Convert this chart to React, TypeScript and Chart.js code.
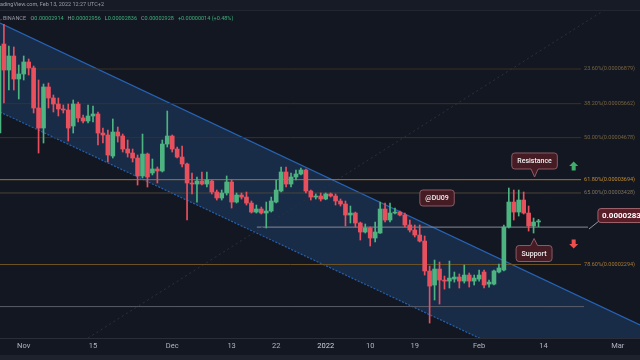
import React, { useEffect, useRef } from 'react';
import { Chart, registerables } from 'chart.js';

Chart.register(...registerables);

// ---------------- data ----------------
// Daily candles, prices in units of 0.00000001 USDT.
// Day index counted from 1 Nov 2021 (0 = Nov 1); first candle = 27 Oct 2021.
const FIRST_DAY = -5;

const OPEN = [
  4801, 7916, 6840, 7400, 6503,
  6688, 7155, 6918, 5526, 4938, 6218, 5845, 5651, 5495, 5464,
  4994, 5651, 5224, 5136, 5283, 5343, 4801, 4748, 4219, 4828,
  4721, 4388, 4291, 4172, 3772, 4267, 3836, 3923, 3879, 4513,
  4721, 4388, 4195, 4034, 3626, 3605, 3666, 3605, 3666, 3447,
  3333, 3428, 3646, 3258, 3389, 3351, 3240, 3080, 3133, 3063,
  3098, 3258, 3466, 3857, 3605, 3750, 3814, 3901, 3466, 3351,
  3370, 3314, 3409, 3370, 3277, 3222, 3029, 3063, 2896, 2753,
  2816, 2662, 2738, 3133, 2945, 3063, 3080, 3029, 2864, 2784,
  2707, 2617, 2212, 2044, 2236, 2102, 2090, 2114, 2138, 2090,
  2162, 2090, 2114, 2199, 2055, 2055, 2199, 2224, 2832, 3258,
  3080, 3295, 3063, 2848, 2914,
];
const HIGH = [
  8005, 8847, 7828, 7784, 7035,
  7400, 7277, 6996, 6467, 6323, 6359, 5944, 5845, 5620, 5651,
  5779, 5714, 5313, 5620, 5588, 5403, 4938, 4883, 5195, 4966,
  4774, 4616, 4388, 4243, 4774, 4291, 4149, 3967, 4616, 5433,
  4748, 4438, 4463, 4057, 3836, 3750, 3857, 3857, 3687, 3486,
  3486, 3772, 3687, 3428, 3428, 3447, 3277, 3204, 3168, 3258,
  3351, 3687, 3967, 3967, 3836, 3901, 3945, 3923, 3486, 3409,
  3428, 3428, 3428, 3409, 3314, 3277, 3186, 3080, 2912, 2880,
  2832, 2912, 3258, 3240, 3240, 3150, 3098, 3063, 2945, 2864,
  2864, 2692, 2274, 2352, 2326, 2150, 2339, 2199, 2175, 2287,
  2187, 2162, 2224, 2224, 2102, 2224, 2300, 2864, 3525, 3486,
  3486, 3447, 3186, 2978, 2956,
];
const LOW = [
  4721, 5682, 6113, 6113, 5812,
  6467, 6651, 5373, 4291, 4539, 5526, 5403, 5283, 5373, 4590,
  4801, 5107, 5079, 5079, 5107, 4488, 4539, 4080, 4172, 4564,
  4315, 4195, 4080, 3585, 3729, 3545, 3793, 3626, 3857, 4438,
  4315, 4172, 3967, 2945, 3409, 3258, 3585, 3545, 3409, 3295,
  3295, 3389, 3150, 3240, 3314, 3204, 3063, 3063, 3046, 2816,
  3080, 3240, 3447, 3545, 3545, 3687, 3793, 3428, 3295, 3314,
  3277, 3300, 3351, 3204, 3186, 2848, 2896, 2832, 2632, 2738,
  2545, 2603, 2730, 2912, 2912, 3046, 3012, 2832, 2753, 2677,
  2603, 2162, 1651, 1879, 1837, 1998, 2010, 2078, 2010, 2067,
  2021, 2044, 2090, 2010, 2021, 2044, 2187, 2212, 2816, 2945,
  3012, 3046, 2768, 2738, 2836,
];
const CLOSE = [
  7828, 6840, 7400, 6503, 6688,
  7155, 6918, 5526, 4938, 6218, 5845, 5651, 5495, 5464, 4938,
  5651, 5224, 5136, 5283, 5343, 4801, 4748, 4243, 4828, 4721,
  4388, 4291, 4172, 3772, 4267, 3750, 3923, 3879, 4513, 4721,
  4388, 4195, 4034, 3626, 3605, 3666, 3605, 3687, 3447, 3333,
  3428, 3646, 3258, 3389, 3351, 3240, 3080, 3133, 3063, 3098,
  3277, 3486, 3857, 3605, 3750, 3814, 3901, 3466, 3351, 3370,
  3314, 3409, 3370, 3277, 3222, 3029, 3063, 2896, 2753, 2816,
  2662, 2753, 3133, 2945, 3063, 3080, 3029, 2864, 2784, 2707,
  2617, 2212, 2032, 2236, 2102, 2090, 2126, 2138, 2090, 2162,
  2090, 2126, 2162, 2044, 2078, 2212, 2249, 2832, 3258, 3080,
  3295, 3063, 2848, 2912, 2928,
];

const X_TICK_DAYS = [0, 14, 30, 42, 51, 61, 70, 79, 92, 105, 120];
const X_TICK_LABELS = ['Nov', '15', 'Dec', '13', '22', '2022', '10', '19', 'Feb', '14', 'Mar'];

const FIB_PCTS = ['23.60%', '38.20%', '50.00%', '61.80%', '65.00%', '78.60%'];
const FIB_VALUES = [6879, 5662, 4678, 3694, 3428, 2294];
const FIB_DAYS = [-4.79, 112.6];

const CHANNEL_DAYS = [-4.79, 124.5];
const CHANNEL_UPPER = [8908, 1633];
const CHANNEL_LOWER = [5403, 991];

const TREND_DAYS = [13, 120];
const TREND_VALUES = [1518, 10046];

const SUPPORT_DAYS = [47.1, 114];
const SUPPORT_VALUE = 2830;
const BASE_DAYS = [-4.79, 113.2];
const BASE_VALUE = 1811;

const LEADER_DAYS = [114.2, 116.2];
const LEADER_VALUES = [2800, 2928];
const PRICE_TAG_DAY = 116;
const PRICE_TAG_VALUE = 3020;
const LAST_PRICE = 2830;

const NOTE_TEXTS = ['@DU09', 'Resistance', 'Support'];
const NOTE_DAYS = [83.5, 103.2, 103.1];
const NOTE_VALUES = [3333, 4103, 2440];

const ARROW_DAYS = [111.1, 111.1];
const ARROW_VALUES = [3989, 2574];

const HEADER_TITLE = 'TradingView.com, Feb 13, 2022 12:27 UTC+2';
const HEADER_SOURCE = ', BINANCE';
const HEADER_KEYS = ['O', 'H', 'L', 'C'];
const HEADER_VALUES = ['0.00002914', '0.00002956', '0.00002836', '0.00002928'];
const HEADER_CHANGE = '+0.00000014 (+0.48%)';

const X_MIN = -4.79;
const X_MAX = 124.5;
const Y_MIN = 1518;
const Y_MAX = 10136;

// ---------------- styles ----------------
const BG = '#131722';
const UP = '#4db380';
const DOWN = '#e9505e';
const CH_LINE = '#2763b4';
const CH_FILL = 'rgba(33,82,140,0.36)';
const FIB_LINE_COLORS = ['#3a3224', '#3a3224', '#3a3224', '#a87624', '#4a4438', '#6e5326'];
const FIB_LABEL_COLORS = ['#76643f', '#76643f', '#76643f', '#c08a30', '#7d735f', '#a77a33'];
const NOTE_POINTERS = ['none', 'down', 'up'];
const NOTE_FILL = '#461c24';
const NOTE_BORDER = '#8c5a64';
const ARROW_DIRS = ['up', 'down'];
const ARROW_COLORS = ['#3fae6a', '#ef4e4e'];
const FONT = 'Roboto, "Liberation Sans", sans-serif';

function bubble(ctx: CanvasRenderingContext2D, cx: number, cy: number, w: number, h: number, r: number, pointer: string, tip: number, half: number) {
  const x = cx - w / 2;
  const y = cy - h / 2;
  ctx.beginPath();
  ctx.moveTo(x + r, y);
  if (pointer === 'up') {
    ctx.lineTo(cx - half, y);
    ctx.lineTo(cx, y - tip);
    ctx.lineTo(cx + half, y);
  }
  ctx.lineTo(x + w - r, y);
  ctx.arcTo(x + w, y, x + w, y + r, r);
  ctx.lineTo(x + w, y + h - r);
  ctx.arcTo(x + w, y + h, x + w - r, y + h, r);
  if (pointer === 'down') {
    ctx.lineTo(cx + half, y + h);
    ctx.lineTo(cx, y + h + tip);
    ctx.lineTo(cx - half, y + h);
  }
  ctx.lineTo(x + r, y + h);
  ctx.arcTo(x, y + h, x, y + h - r, r);
  ctx.lineTo(x, y + r);
  ctx.arcTo(x, y, x + r, y, r);
  ctx.closePath();
}

function arrow(ctx: CanvasRenderingContext2D, cx: number, cy: number, dir: string, color: string) {
  const s = dir === 'up' ? 1 : -1;
  ctx.beginPath();
  ctx.moveTo(cx, cy - 4.5 * s);
  ctx.lineTo(cx + 4.5, cy);
  ctx.lineTo(cx + 2, cy);
  ctx.lineTo(cx + 2, cy + 4.5 * s);
  ctx.lineTo(cx - 2, cy + 4.5 * s);
  ctx.lineTo(cx - 2, cy);
  ctx.lineTo(cx - 4.5, cy);
  ctx.closePath();
  ctx.fillStyle = color;
  ctx.fill();
}

const overlay = {
  id: 'overlay',
  beforeDraw(chart: any) {
    const { ctx, width, height } = chart;
    ctx.save();
    ctx.fillStyle = BG;
    ctx.fillRect(0, 0, width, height);
    ctx.restore();
  },
  afterDatasetsDraw(chart: any) {
    const { ctx } = chart;
    const xs = chart.scales.x;
    const ys = chart.scales.y;
    ctx.save();
    // fib labels
    ctx.font = `5.5px ${FONT}`;
    ctx.textBaseline = 'middle';
    ctx.textAlign = 'left';
    const lx = xs.getPixelForValue(FIB_DAYS[1]) + 3;
    FIB_VALUES.forEach((v, i) => {
      ctx.fillStyle = FIB_LABEL_COLORS[i];
      ctx.fillText(`${FIB_PCTS[i]}(${(v / 1e8).toFixed(8)})`, lx, ys.getPixelForValue(v));
    });
    // notes
    ctx.font = `500 7px ${FONT}`;
    ctx.textAlign = 'center';
    NOTE_TEXTS.forEach((t, i) => {
      const cx = xs.getPixelForValue(NOTE_DAYS[i]);
      const cy = ys.getPixelForValue(NOTE_VALUES[i]);
      const w = ctx.measureText(t).width + 11;
      const ptr = NOTE_POINTERS[i];
      bubble(ctx, cx, cy, w, 16, 3, ptr, ptr === 'up' ? 7 : 8, 3.5);
      ctx.fillStyle = NOTE_FILL;
      ctx.fill();
      ctx.strokeStyle = NOTE_BORDER;
      ctx.lineWidth = 1;
      ctx.stroke();
      ctx.fillStyle = '#f0f0f2';
      ctx.fillText(t, cx, cy + 0.5);
    });
    // arrows
    ARROW_DAYS.forEach((d, i) => {
      arrow(ctx, xs.getPixelForValue(d), ys.getPixelForValue(ARROW_VALUES[i]), ARROW_DIRS[i], ARROW_COLORS[i]);
    });
    // price tag
    const tx = xs.getPixelForValue(PRICE_TAG_DAY);
    const ty = ys.getPixelForValue(PRICE_TAG_VALUE);
    bubble(ctx, tx + 40, ty, 80, 14, 3, 'none', 0, 0);
    ctx.fillStyle = '#5a1e29';
    ctx.fill();
    ctx.strokeStyle = '#a0646e';
    ctx.stroke();
    ctx.font = `bold 8px ${FONT}`;
    ctx.textAlign = 'left';
    ctx.fillStyle = '#ffffff';
    ctx.fillText((LAST_PRICE / 1e8).toFixed(8), tx + 4, ty + 0.5);
    ctx.restore();
  },
  afterDraw(chart: any) {
    const { ctx, width, height } = chart;
    ctx.save();
    // header band
    ctx.fillStyle = '#171b26';
    ctx.fillRect(0, 0, width, 10);
    ctx.fillStyle = '#22262f';
    ctx.fillRect(0, 10, width, 1);
    ctx.font = `5.5px ${FONT}`;
    ctx.textBaseline = 'middle';
    ctx.textAlign = 'left';
    ctx.fillStyle = '#9a9da6';
    const cut = ctx.measureText('Tr').width;
    ctx.fillText(HEADER_TITLE, -cut, 5);
    let x = 0.5;
    const y = 18.5;
    ctx.fillStyle = '#9598a1';
    ctx.fillText(HEADER_SOURCE, x, y);
    x += ctx.measureText(HEADER_SOURCE).width + 4.5;
    HEADER_KEYS.forEach((k, i) => {
      ctx.fillStyle = '#9598a1';
      ctx.fillText(k, x, y);
      x += ctx.measureText(k).width;
      ctx.fillStyle = '#3fae78';
      ctx.fillText(HEADER_VALUES[i], x, y);
      x += ctx.measureText(HEADER_VALUES[i]).width + 4;
    });
    ctx.fillStyle = '#3fae78';
    ctx.fillText(HEADER_CHANGE, x, y);
    // bottom band
    ctx.fillStyle = '#1e222d';
    ctx.fillRect(0, 355, width, height - 355);
    ctx.restore();
  },
};

export default function App() {
  const ref = useRef<HTMLCanvasElement>(null);

  useEffect(() => {
    const canvas = ref.current;
    if (!canvas) return;
    const days = OPEN.map((_, i) => FIRST_DAY + i);
    const colors = OPEN.map((o, i) => (CLOSE[i] >= o ? UP : DOWN));
    const seg = (xv: number[], yv: number[]) => xv.map((xx, i) => ({ x: xx, y: yv[i] }));
    const hl = (xv: number[], v: number) => xv.map((xx) => ({ x: xx, y: v }));
    const lineBase = { type: 'line', pointRadius: 0, fill: false, tension: 0, borderWidth: 1 };

    const datasets: any[] = [
      { ...lineBase, data: seg(CHANNEL_DAYS, CHANNEL_UPPER), borderColor: CH_LINE, borderWidth: 1.2, fill: '+1', backgroundColor: CH_FILL, order: 20 },
      { ...lineBase, data: seg(CHANNEL_DAYS, CHANNEL_LOWER), borderColor: CH_LINE, borderWidth: 1.2, borderDash: [2, 1.5], order: 20 },
      ...FIB_VALUES.map((v, i) => ({ ...lineBase, data: hl(FIB_DAYS, v), borderColor: FIB_LINE_COLORS[i], order: 15 })),
      { ...lineBase, data: seg(TREND_DAYS, TREND_VALUES), borderColor: '#2a303d', borderDash: [2, 3], order: 15 },
      { ...lineBase, data: hl(SUPPORT_DAYS, SUPPORT_VALUE), borderColor: '#868993', order: 15 },
      { ...lineBase, data: hl(BASE_DAYS, BASE_VALUE), borderColor: '#5a5d68', order: 15 },
      { ...lineBase, data: seg(LEADER_DAYS, LEADER_VALUES), borderColor: '#9598a1', order: 15 },
      {
        type: 'bar',
        data: days.map((d, i) => ({ x: d, y: [LOW[i], HIGH[i]] })),
        backgroundColor: colors,
        barThickness: 1,
        grouped: false,
        borderWidth: 0,
        order: 2,
      },
      {
        type: 'bar',
        data: days.map((d, i) => ({ x: d, y: [Math.min(OPEN[i], CLOSE[i]), Math.max(OPEN[i], CLOSE[i])] })),
        backgroundColor: colors,
        barThickness: 4,
        minBarLength: 1,
        grouped: false,
        borderWidth: 0,
        order: 1,
      },
    ];

    const chart = new Chart(canvas, {
      type: 'bar',
      data: { datasets },
      options: {
        animation: false,
        responsive: false,
        maintainAspectRatio: false,
        layout: { padding: 0 },
        plugins: { legend: { display: false }, tooltip: { enabled: false } },
        scales: {
          x: {
            type: 'linear',
            min: X_MIN,
            max: X_MAX,
            offset: false,
            bounds: 'data',
            grid: { display: false, drawTicks: false },
            border: { display: true, color: '#2a2e39' },
            afterBuildTicks: (axis: any) => {
              axis.ticks = X_TICK_DAYS.map((v) => ({ value: v }));
            },
            afterFit: (axis: any) => {
              axis.height = 22;
            },
            ticks: {
              callback: (_v: any, i: number) => X_TICK_LABELS[i],
              color: (c: any) => (X_TICK_LABELS[c.index] === '2022' ? '#d1d4dc' : '#b2b5be'),
              font: { family: FONT, size: 7.5 },
              padding: 4,
              maxRotation: 0,
              autoSkip: false,
            },
          },
          y: {
            type: 'logarithmic',
            display: false,
            min: Y_MIN,
            max: Y_MAX,
          },
        },
      } as any,
      plugins: [overlay],
    } as any);

    return () => chart.destroy();
  }, []);

  return (
    <div style={{ position: 'fixed', left: 0, top: 0, width: 640, height: 360, background: BG }}>
      <canvas ref={ref} width={640} height={360} style={{ display: 'block', width: 640, height: 360 }} />
    </div>
  );
}
